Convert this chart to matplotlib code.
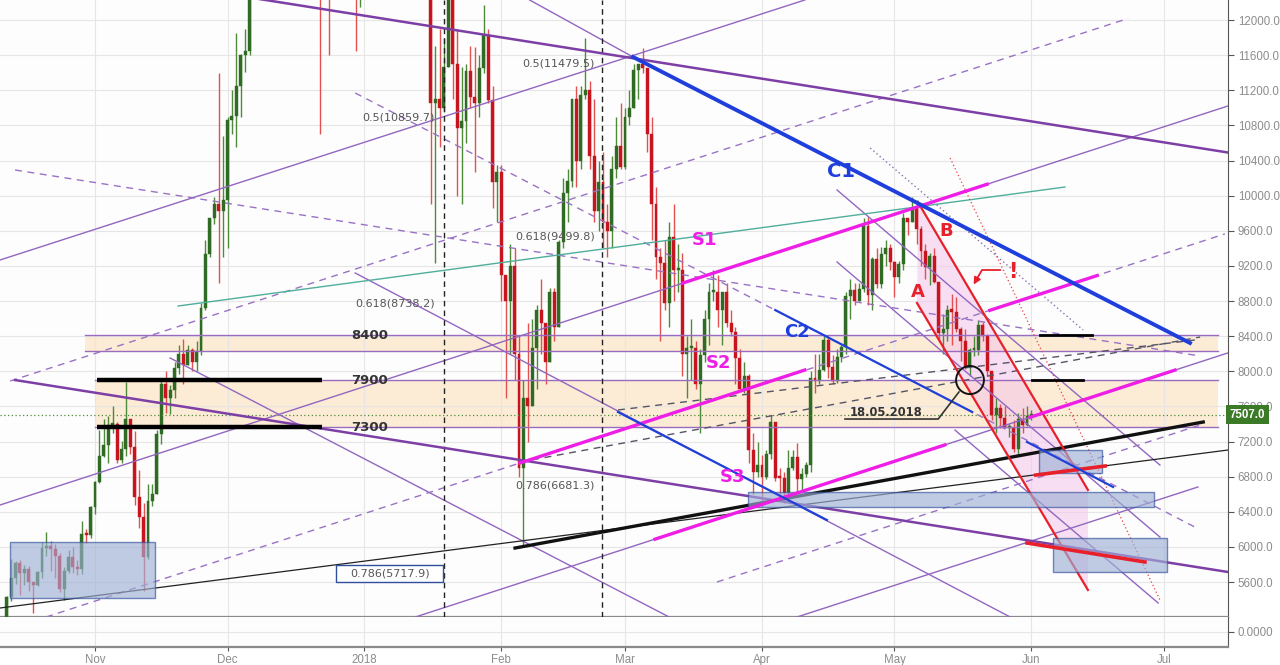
import numpy as np
import pandas as pd
import matplotlib
matplotlib.use("Agg")
import matplotlib.pyplot as plt
from matplotlib.patches import Rectangle, Polygon, Ellipse

BASE = pd.Timestamp("2017-11-01")
FIRST_CANDLE = "2017-10-11"

# ---- daily BTC/USD candles, 11 Oct 2017 .. 1 Jun 2018 ----
opens = [
    4760, 4830, 5430, 5640, 5820, 5700, 5750, 5600, 5570, 5710, 5990, 6010, 5980, 5900, 5520, 5730, 5890, 5770, 5750, 6150, 6130,
    6450, 6740, 7030, 7160, 7390, 7400, 6990, 7120, 7460, 7140, 6570, 6340, 5880, 6520, 6600, 7280, 7850, 7700, 7790, 8040, 8200, 8070, 8240, 8100, 8230, 8720, 9330, 9740, 9900, 9830,
    9950, 10860, 10910, 11250, 11600, 11650, 13750, 16850, 16050, 14840, 15060, 16730, 17280, 16400, 16530, 17600, 19190, 19040, 18980, 17700, 16470, 15600, 13830, 14700, 14000, 14000, 15750, 15500, 14200, 14400, 12700,
    13860, 13400, 14750, 15000, 15100, 17000, 17100, 16200, 14900, 14400, 14900, 13240, 13800, 14200, 13600, 13600, 11050, 11100, 11000, 11460, 12800, 11500, 10770, 10850, 11420, 11120, 11050, 11450, 11830, 11090, 10160,
    10270, 9100, 8800, 9200, 8200, 6900, 7700, 7600, 8260, 8700, 8550, 8100, 8900, 8500, 9470, 10030, 10170, 11100, 10400, 11150, 11200, 10450, 9830, 10150, 9700, 9600, 10300, 10570,
    10330, 10900, 11000, 11430, 11500, 11450, 10700, 9900, 9300, 9230, 8780, 9530, 9150, 9150, 8200, 8260, 8270, 7860, 8190, 8600, 8900, 8900, 8700, 8900, 8550, 8450, 8150, 7800, 7950, 7100, 6850,
    6930, 6800, 7060, 7420, 6790, 6780, 6610, 6900, 7020, 6770, 6830, 6930, 7920, 7890, 8010, 8360, 8050, 7890, 8160, 8280, 8860, 8920, 8800, 8940, 9650, 8870, 9280, 8990, 9340, 9400,
    9240, 9070, 9220, 9740, 9700, 9860, 9620, 9370, 9190, 9310, 9020, 8430, 8480, 8700, 8680, 8480, 8340, 8060, 8240, 8240, 8530, 8400, 8000, 7500, 7580, 7470, 7350, 7350, 7110, 7460, 7390,
    7490,
]
highs = [
    4880, 5440, 5860, 5840, 5850, 5790, 5780, 5600, 5730, 6050, 6170, 6070, 6030, 5930, 5770, 5970, 6000, 5850, 6300, 6200, 6470,
    6750, 7330, 7460, 7490, 7600, 7420, 7210, 7880, 7460, 7320, 6870, 6500, 6720, 6720, 7330, 7890, 8000, 7840, 8100, 8300, 8370, 8300, 8270, 8350, 8780, 9500, 9750, 9990, 11400, 10680,
    10900, 11200, 11850, 11610, 11900, 13850, 16850, 17250, 16250, 15800, 17400, 17550, 17400, 16950, 17900, 19400, 19800, 19200, 19050, 17850, 17300, 15800, 15500, 14700, 14500, 16000, 16400, 15500, 15100, 14500, 14250,
    13900, 15400, 15500, 15400, 17100, 17250, 17100, 16250, 15400, 14900, 14900, 14100, 14600, 14300, 14200, 13600, 11700, 11900, 11800, 13000, 12800, 11900, 11460, 11500, 11700, 11690, 11600, 12170, 11900, 11250, 10350,
    10350, 9100, 9450, 9400, 8400, 7900, 8550, 8600, 8750, 9050, 8550, 8950, 8950, 9500, 10200, 10300, 11100, 11250, 11250, 11800, 11300, 11100, 10400, 10500, 9900, 10450, 10900, 11050,
    11000, 11200, 11500, 11500, 11680, 11450, 10900, 10100, 9400, 9500, 9700, 9900, 9450, 9350, 8400, 8600, 8350, 8250, 8700, 9000, 9150, 9100, 8900, 9000, 8700, 8500, 8250, 8100, 7970, 7300, 7200,
    7050, 7100, 7500, 7420, 6900, 6850, 7100, 7100, 7180, 6900, 6970, 8000, 8200, 8200, 8400, 8400, 8180, 8250, 8300, 8900, 9050, 9000, 9000, 9750, 9760, 9300, 9400, 9420, 9500, 9450,
    9250, 9250, 9800, 9750, 9990, 9950, 9650, 9450, 9350, 9400, 9020, 8650, 8750, 8880, 8850, 8500, 8480, 8270, 8400, 8580, 8560, 8420, 8000, 7700, 7630, 7600, 7400, 7450, 7530, 7580, 7600,
    7560,
]
lows = [
    4730, 4820, 5380, 5580, 5450, 5570, 5500, 5250, 5560, 5650, 5900, 5730, 5650, 5490, 5400, 5700, 5700, 5680, 5690, 6040, 6100,
    6370, 6730, 7020, 6950, 7300, 6960, 6960, 7040, 7060, 6480, 6220, 5500, 5860, 6460, 6600, 7170, 7530, 7510, 7700, 7970, 7860, 8070, 8000, 8000, 8190, 8700, 9300, 9680, 9000, 9300,
    9400, 10700, 10550, 10900, 11410, 11600, 13500, 13500, 13100, 13000, 15000, 16250, 15900, 16000, 16300, 17500, 18750, 17850, 16500, 15500, 14800, 10700, 13500, 11600, 13500, 13900, 14800, 13500, 14000, 11650, 12150,
    12750, 12900, 14600, 14000, 14800, 16200, 15800, 13900, 14300, 13150, 12800, 12900, 13800, 13000, 13200, 9900, 9230, 10550, 10950, 11460, 11100, 10000, 9900, 10600, 11000, 10270, 10900, 11400, 11050, 9860, 9700,
    8800, 7700, 8200, 7900, 6800, 6000, 7200, 7600, 7800, 8200, 7850, 8100, 8350, 8500, 9400, 9700, 10100, 10100, 10300, 11100, 10300, 9700, 9600, 9400, 9300, 9400, 10200, 10300,
    10300, 10800, 11000, 11100, 11400, 10500, 9500, 9050, 8350, 8700, 8500, 8800, 8900, 7950, 7700, 7900, 7800, 7300, 8100, 8300, 8800, 8500, 8300, 8500, 8400, 7850, 7800, 7750, 6950, 6600, 6800,
    6450, 6770, 7000, 6750, 6600, 6500, 6600, 6880, 6600, 6650, 6800, 6850, 7750, 7850, 8000, 7920, 7850, 7870, 8100, 8200, 8600, 8750, 8800, 8900, 8750, 8700, 8950, 8950, 9200, 9150,
    8850, 9000, 9150, 9550, 9700, 9450, 9200, 9050, 8980, 9000, 8350, 8200, 8350, 8300, 8450, 8120, 8020, 7950, 8170, 8180, 8350, 7950, 7450, 7300, 7350, 7350, 7250, 7080, 7050, 7300, 7380,
    7450,
]
closes = [
    4830, 5430, 5640, 5820, 5700, 5750, 5600, 5570, 5710, 5990, 6010, 5980, 5900, 5520, 5730, 5890, 5770, 5750, 6150, 6130, 6450,
    6740, 7030, 7160, 7390, 7400, 6990, 7120, 7460, 7140, 6570, 6340, 5880, 6520, 6600, 7280, 7850, 7700, 7790, 8040, 8200, 8070, 8240, 8100, 8230, 8720, 9330, 9740, 9900, 9830, 9950,
    10860, 10910, 11250, 11600, 11650, 13750, 16850, 16050, 14840, 15060, 16730, 17280, 16400, 16530, 17600, 19190, 19040, 18980, 17700, 16470, 15600, 13830, 14700, 14000, 14000, 15750, 15500, 14200, 14400, 12700, 13860,
    13400, 14750, 15000, 15100, 17000, 17100, 16200, 14900, 14400, 14900, 13240, 13800, 14200, 13600, 13600, 11050, 11100, 11000, 11460, 12800, 11500, 10770, 10850, 11420, 11120, 11050, 11450, 11830, 11090, 10160, 10270,
    9100, 8800, 9200, 8200, 6900, 7700, 7600, 8260, 8700, 8550, 8100, 8900, 8500, 9470, 10030, 10170, 11100, 10400, 11150, 11200, 10450, 9830, 10150, 9700, 9600, 10300, 10570, 10330,
    10900, 11000, 11430, 11500, 11450, 10700, 9900, 9300, 9230, 8780, 9530, 9150, 9150, 8200, 8260, 8270, 7860, 8190, 8600, 8900, 8900, 8700, 8900, 8550, 8450, 8150, 7800, 7950, 7100, 6850, 6930,
    6800, 7060, 7420, 6790, 6780, 6610, 6900, 7020, 6770, 6830, 6930, 7920, 7890, 8010, 8360, 8050, 7890, 8160, 8280, 8860, 8920, 8800, 8940, 9650, 8870, 9280, 8990, 9340, 9400, 9240,
    9070, 9220, 9740, 9700, 9860, 9620, 9370, 9190, 9310, 9020, 8430, 8480, 8700, 8680, 8480, 8340, 8060, 8240, 8240, 8530, 8400, 8000, 7500, 7580, 7470, 7350, 7350, 7110, 7460, 7390, 7490,
    7507,
]
last_price = 7507.0

# ---- drawings: (days since 1 Nov 2017, price) ----
thick_purple = [[(32.8, 12274), (256.5, 10491)],
                [(-18.1, 7900), (256.5, 5714)]]
thin_purple = [[(-21.5, 9267), (160.7, 12228)],
               [(-21.5, 6477), (256.5, 11021)],
               [(72.5, 5201), (256.5, 8209)],
               [(58.9, 9119), (207.2, 5201)],
               [(17.0, 8151), (130.0, 5201)],
               [(98.4, 12228), (121.8, 11579)],
               [(158.9, 5201), (249.7, 6682)],
               [(168.0, 10064), (241.1, 6932)],
               [(168.0, 9244), (241.1, 6112)],
               [(194.7, 7330), (240.7, 5361)]]
dotted_purple = [[(175.5, 10542), (223.7, 8470)]]
dashed_purple = [[(-19.2, 7889), (233.9, 12018)],
                 [(-18.1, 10292), (250.2, 8174)],
                 [(58.9, 11169), (249.0, 6226)],
                 [(-11.1, 5201), (255.8, 9564)],
                 [(140.8, 5600), (250.2, 7388)]]
dashed_dark = [[(96.2, 6966), (250.2, 8390)],
               [(118.4, 7559), (249.0, 8356)]]
magenta = [[(133.1, 9005), (202.0, 10130)],
           [(96.2, 6955), (160.7, 8014)],
           [(202.6, 8694), (226.9, 9090)],
           [(126.8, 6088), (192.4, 7161)],
           [(211.7, 7476), (244.5, 8013)]]
blue_c1 = [(121.8, 11579), (247.9, 8322)]
blue_thin = [[(154.0, 8697), (198.6, 7536)],
             [(118.4, 7536), (165.7, 6306)],
             [(211.0, 7195), (230.5, 6682)]]
teal_line = [(18.8, 8743), (219.6, 10098)]
black_thin = [(-21.5, 5304), (256.5, 7103)]
black_thick = [(95.1, 5987), (250.9, 7422)]
red_a = [(186.1, 8777), (224.8, 5509)]
red_b = [(186.3, 9927), (224.8, 6648)]
red_dotted = [(193.6, 10428), (241.1, 5395)]
red_short = [[(213.0, 6818), (228.7, 6921)],
             [(211.0, 6044), (237.7, 5828)]]

# horizontal levels
band_upper = (8230, 8410)
band_lower = (7360, 7900)
level_labels = ["8400", "7900", "7300"]
level_prices = [8410, 7900, 7360]
right_marks = [[(213.9, 8410), (225.7, 8410)], [(212.1, 7900), (223.7, 7900)]]

# boxes: (day0, day1, price_low, price_high)
zones = [(-19.2, 13.6, 5418, 6055),
         (147.8, 239.8, 6454, 6625),
         (213.7, 228.0, 6841, 7103),
         (216.9, 242.7, 5714, 6101)]

fib_labels = ["0.5(11479.5)", "0.5(10859.7)", "0.618(9499.8)", "0.618(8738.2)", "0.786(6681.3)"]
fib_pos = [(96.7, 11510), (60.5, 10895), (95.1, 9530), (58.9, 8770), (95.1, 6700)]
vertical_marks = [79.0, 114.8]

months = ["2017-11-01", "2017-12-01", "2018-01-01", "2018-02-01", "2018-03-01",
          "2018-04-01", "2018-05-01", "2018-06-01", "2018-07-01"]
month_labels = ["Nov", "Dec", "2018", "Feb", "Mar", "Apr", "May", "Jun", "Jul"]

X0, X1 = -21.51, 256.51
Y0, Y1 = 5201.5, 12227.8
AXFONT = "Liberation Sans"

W, H = 1280, 665
fig = plt.figure(figsize=(W / 100, H / 100), dpi=100)
fig.patch.set_facecolor("white")
ax = fig.add_axes([0, 48 / H, 1228 / W, 617 / H])
ax2 = fig.add_axes([0, 18 / H, 1228 / W, 30 / H])

for a in (ax, ax2):
    a.set_facecolor("#fdfdfd")
    a.set_xlim(X0, X1)
    for s in ("top", "left"):
        a.spines[s].set_visible(False)
    a.spines["right"].set_color("#555555")
    a.spines["bottom"].set_color("#8a8a8a")
    a.spines["bottom"].set_linewidth(1.6)

ax.set_ylim(Y0, Y1)
month_x = [(pd.Timestamp(m) - BASE).days for m in months]
yt = np.arange(5600, 12001, 400)
ax.set_yticks(yt)
ax.set_yticklabels([f"{v:.1f}" for v in yt], fontfamily=AXFONT)
ax.yaxis.tick_right()
ax.tick_params(axis="y", colors="#555555", labelcolor="#8c8c8c", labelsize=8.3, length=4, pad=3)
ax.set_xticks(month_x)
ax.tick_params(axis="x", length=0, labelbottom=False)
ax.grid(True, color="#e6e6e6", linewidth=0.8, zorder=0)

ax2.set_ylim(-1, 1)
ax2.set_yticks([0])
ax2.set_yticklabels(["0.0000"], fontfamily=AXFONT)
ax2.yaxis.tick_right()
ax2.tick_params(axis="y", colors="#555555", labelcolor="#8c8c8c", labelsize=8.3, length=4, pad=3)
ax2.set_xticks(month_x)
ax2.set_xticklabels(month_labels, fontfamily=AXFONT)
ax2.tick_params(axis="x", colors="#555555", labelcolor="#8c8c8c", labelsize=8.3, length=3, pad=2)
ax2.grid(True, color="#e6e6e6", linewidth=0.8)

# bands
ax.add_patch(Rectangle((-2.26, band_upper[0]), 254.25 + 2.26, band_upper[1] - band_upper[0],
                       facecolor="#fcebd5", edgecolor="none", zorder=1))
ax.add_patch(Rectangle((0.0, band_lower[0]), 254.25, band_lower[1] - band_lower[0],
                       facecolor="#fcebd5", edgecolor="none", zorder=1))
for p, x0 in zip([band_upper[0], band_upper[1], band_lower[0], band_lower[1]], [-2.26, -2.26, 0.0, 0.0]):
    ax.plot([x0, 254.25], [p, p], color="#9a6cc0", lw=1.0, zorder=4)

# candles
days = (pd.date_range(FIRST_CANDLE, periods=len(closes)) - BASE).days.values
o = np.array(opens, float)
h = np.array(highs, float)
l = np.array(lows, float)
c = np.array(closes, float)
up = c >= o
ax.vlines(days[up], l[up], h[up], color="#4f8a3a", lw=1.0, zorder=3)
ax.vlines(days[~up], l[~up], h[~up], color="#e2504f", lw=1.0, zorder=3)
body_lo = np.minimum(o, c)
body_h = np.maximum(np.abs(c - o), 25)
ax.bar(days[up], body_h[up], bottom=body_lo[up], width=0.66, color="#2f6b22", edgecolor="#2f6b22", lw=0.3, zorder=3)
ax.bar(days[~up], body_h[~up], bottom=body_lo[~up], width=0.66, color="#c8141e", edgecolor="#c8141e", lw=0.3, zorder=3)

# last price line
ax.axhline(last_price, color="#4f8a3a", lw=0.9, ls=(0, (1, 2)), zorder=4)

def seg(pts, **kw):
    xs, ys = zip(*pts)
    ax.plot(xs, ys, **kw)

for ln in thin_purple:
    seg(ln, color="#9366c0", lw=1.0, zorder=4)
for ln in dotted_purple:
    seg(ln, color="#8a6fb0", lw=1.0, ls=(0, (1, 2)), zorder=4)
for ln in dashed_purple:
    seg(ln, color="#9a72c4", lw=1.0, ls=(0, (5, 4)), zorder=4)
for ln in dashed_dark:
    seg(ln, color="#555566", lw=1.0, ls=(0, (5, 4)), zorder=4)
for ln in thick_purple:
    seg(ln, color="#7d3fa6", lw=1.8, zorder=5)
seg(teal_line, color="#4fae9c", lw=1.0, zorder=4)
seg(black_thin, color="#222222", lw=0.9, zorder=4)
seg(black_thick, color="#111111", lw=2.4, zorder=5)

# red channel A/B
ax.add_patch(Polygon([red_b[0], red_b[1], red_a[1], red_a[0]],
                     closed=True, facecolor="#f4c6ea", alpha=0.55, edgecolor="none", zorder=2))
seg(red_a, color="#e8202a", lw=1.6, zorder=5)
seg(red_b, color="#e8202a", lw=1.6, zorder=5)
seg(red_dotted, color="#e8404a", lw=0.9, ls=(0, (1, 2)), zorder=4)
for ln in red_short:
    seg(ln, color="#e8202a", lw=2.6, zorder=6)

for ln in magenta:
    seg(ln, color="#ee1ee6", lw=2.4, zorder=6)
seg(blue_c1, color="#1f3fdc", lw=2.8, zorder=6)
for ln in blue_thin:
    seg(ln, color="#2040d8", lw=1.6, zorder=6)

# level marks
for p in level_prices[1:]:
    ax.plot([0.45, 51.4], [p, p], color="black", lw=3.2, solid_capstyle="butt", zorder=6)
for ln in right_marks:
    seg(ln, color="black", lw=2.0, zorder=6)
for p, lab in zip(level_prices, level_labels):
    ax.text(58.0, p, lab, fontsize=9.5, fontweight="bold", color="#333333", va="center", ha="left", zorder=7)

# zones
for d0, d1, p0, p1 in zones:
    ax.add_patch(Rectangle((d0, p0), d1 - d0, p1 - p0, facecolor="#9fb0d6", alpha=0.65,
                           edgecolor="#2f4f9a", lw=1.0, zorder=5))
ax.add_patch(Rectangle((54.6, 5600), 24.2, 194, facecolor="white", edgecolor="#2f4f9a", lw=1.0, zorder=5))
ax.text(66.7, 5697, "0.786(5717.9)", fontsize=8.0, color="#555555", ha="center", va="center", zorder=7)

for lab, (x, y) in zip(fib_labels, fib_pos):
    ax.text(x, y, lab, fontsize=8.0, color="#555555", ha="left", va="center", zorder=7)

for v in vertical_marks:
    ax.axvline(v, color="#222222", lw=1.0, ls=(0, (4, 3)), zorder=4)

# circle + callout
ax.add_patch(Ellipse((198.1, 7900), 6.3, 320, facecolor="none", edgecolor="#111111", lw=1.4, zorder=7))
ax.plot([169.8, 190.9, 195.6], [7456, 7456, 7764], color="#333333", lw=1.2, zorder=7)
ax.text(170.8, 7530, "18.05.2018", fontsize=8.3, fontweight="bold", color="#333333", ha="left", va="center", zorder=7)

# labels
ax.text(169.0, 10270, "C1", fontsize=14, fontweight="bold", color="#1f3fdc", ha="center", va="center", zorder=7)
ax.text(158.9, 8450, "C2", fontsize=13, fontweight="bold", color="#1f3fdc", ha="center", va="center", zorder=7)
ax.text(138.1, 9500, "S1", fontsize=13, fontweight="bold", color="#ee1ee6", ha="center", va="center", zorder=7)
ax.text(141.1, 8090, "S2", fontsize=13, fontweight="bold", color="#ee1ee6", ha="center", va="center", zorder=7)
ax.text(144.4, 6800, "S3", fontsize=13, fontweight="bold", color="#ee1ee6", ha="center", va="center", zorder=7)
ax.text(186.3, 8900, "A", fontsize=13, fontweight="bold", color="#e8202a", ha="center", va="center", zorder=7)
ax.text(192.7, 9600, "B", fontsize=13, fontweight="bold", color="#e8202a", ha="center", va="center", zorder=7)
ax.text(207.8, 9130, "!", fontsize=15, fontweight="bold", color="#e8202a", ha="center", va="center", zorder=7)
ax.annotate("", xy=(198.6, 8960), xytext=(205.6, 9153),
            arrowprops=dict(arrowstyle="-|>", color="#e8202a", lw=1.3,
                            connectionstyle="angle,angleA=0,angleB=60,rad=0"), zorder=7)

# last price tag
ax.text(1.0015, (last_price - Y0) / (Y1 - Y0), "7507.0", transform=ax.transAxes, fontsize=8.3,
        fontfamily=AXFONT, fontweight="bold", color="white", ha="left", va="center",
        bbox=dict(boxstyle="square,pad=0.3", facecolor="#3b7a27", edgecolor="none"), zorder=8)

fig.savefig("out.png", dpi=100, facecolor="white")
